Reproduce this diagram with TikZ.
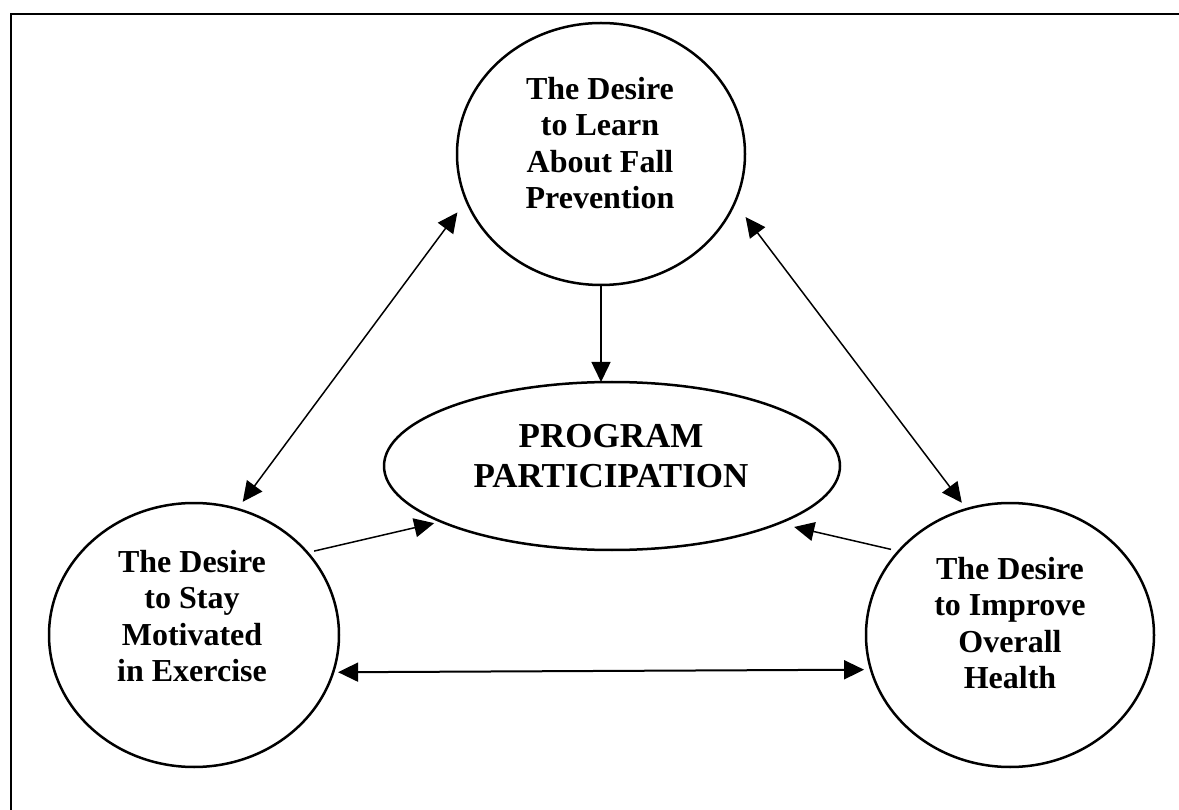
\documentclass[tikz,border=0pt]{standalone}
\usepackage{fontspec}
\setmainfont{Liberation Serif}
\usetikzlibrary{shapes.geometric,arrows.meta}
\begin{document}
\begin{tikzpicture}[x=1pt,y=-1pt,
  bubble/.style={ellipse, draw, line width=2.5pt, inner sep=0pt, outer sep=0pt},
  btext/.style={align=center, inner sep=0pt, font=\bfseries\fontsize{32pt}{36.5pt}\selectfont},
  ptext/.style={align=center, inner sep=0pt, font=\bfseries\fontsize{35pt}{39.3pt}\selectfont},
  conn/.style={line width=1.5pt, -{Triangle[length=20pt,width=19pt]}},
  dconn/.style={line width=1.5pt, {Triangle[length=20pt,width=19pt]}-{Triangle[length=20pt,width=19pt]}}
]
\useasboundingbox (0,0) rectangle (1179,810);
\draw[line width=2pt] (11,812) -- (11,14) -- (1181,14);

\node[bubble, minimum width=288pt, minimum height=262pt] (top) at (601,154) {};
\node[bubble, minimum width=290pt, minimum height=264pt] (left) at (194,635) {};
\node[bubble, minimum width=288pt, minimum height=264pt] (right) at (1010,635) {};
\node[bubble, minimum width=456pt, minimum height=168pt] (pp) at (612,466) {};

\node[btext] (toptext) at (600,143) {The Desire\\to Learn\\About Fall\\Prevention};
\node[btext] (lefttext) at (192,616) {The Desire\\to Stay\\Motivated\\in Exercise};
\node[btext] (righttext) at (1010,623) {The Desire\\to Improve\\Overall\\Health};
\node[ptext] (pptext) at (611,456) {PROGRAM\\PARTICIPATION};

\draw[dconn, shorten <=15pt, shorten >=9pt] (top.199.7) -- (left.71.2);
\draw[dconn, shorten <=18pt, shorten >=8pt] (top.340.2) -- (right.109);
\draw[conn] (top.south) -- (top.south |- pp.north);
\draw[conn, shorten <=7pt, shorten >=7pt] (left.36.65) -- (pp.198);
\draw[conn, shorten <=8pt, shorten >=16pt] (right.143.4) -- (pp.341.1);
\draw[dconn, line width=2pt, shorten <=5pt, shorten >=7pt] (left.345.1) -- (right.194.9);
\end{tikzpicture}
\end{document}
